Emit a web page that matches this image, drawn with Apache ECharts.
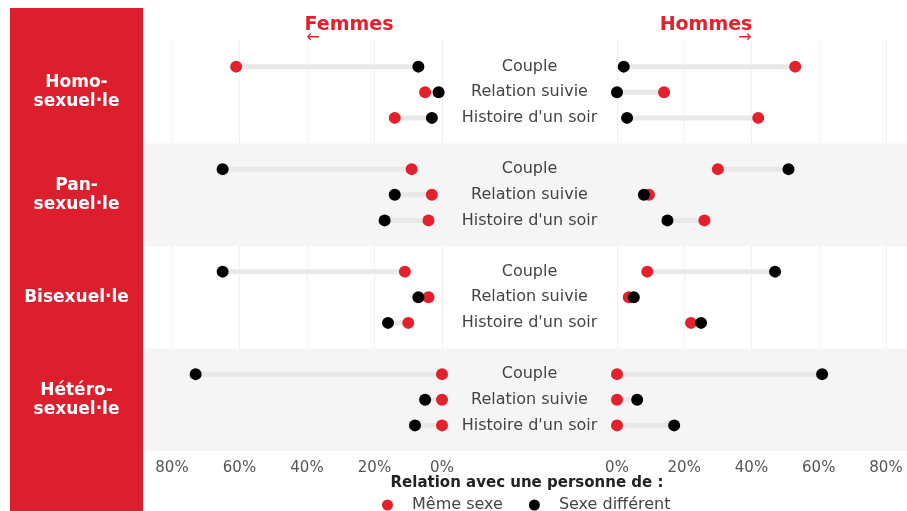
<!DOCTYPE html>
<html><head><meta charset="utf-8">
<script src="https://cdn.jsdelivr.net/npm/echarts@6/dist/echarts.min.js"></script>
<style>html,body{margin:0;padding:0;background:#fff}#c{width:907px;height:511px}</style>
</head><body><div id="c"></div>
<script>
const categories = ['Couple', 'Relation suivie', "Histoire d'un soir"];
const groups = ['Homo-\nsexuel·le', 'Pan-\nsexuel·le', 'Bisexuel·le', 'Hétéro-\nsexuel·le'];
const tickValues = [0, 20, 40, 60, 80];
// Femmes (left), values in %
const femmesMeme = [61, 5, 14, 9, 3, 4, 11, 4, 10, 0, 0, 0];
const femmesDiff = [7, 1, 3, 65, 14, 17, 65, 7, 16, 73, 5, 8];
// Hommes (right), values in %
const hommesMeme = [53, 14, 42, 30, 9.5, 26, 9, 3.5, 22, 0, 0, 0];
const hommesDiff = [2, 0, 3, 51, 8, 15, 47, 5, 25, 61, 6, 17];

const RED = '#e2212d';
const FONT = 'DejaVu Sans';
function slot(i) { return Math.floor(i / 3) * 4 + (i % 3); }

const yAxisBase = { type: 'value', min: -1, max: 15, inverse: true, show: false };
const gridV = { top: 41, bottom: 60 };

function dumbbell(a, b, xi) {
  return {
    type: 'custom', xAxisIndex: xi, yAxisIndex: xi, z: 1,
    data: a.map((v, i) => [slot(i), Math.min(v, b[i]), Math.max(v, b[i])]),
    encode: { x: [1, 2], y: 0 },
    renderItem: function (params, api) {
      const y = api.value(0);
      const p1 = api.coord([api.value(1), y]);
      const p2 = api.coord([api.value(2), y]);
      return { type: 'line', shape: { x1: p1[0], y1: p1[1], x2: p2[0], y2: p2[1] },
        style: { stroke: '#e8e8e8', lineWidth: 5 } };
    }
  };
}
function dots(name, vals, color, xi) {
  return { type: 'scatter', name: name, xAxisIndex: xi, yAxisIndex: xi, z: 3,
    symbolSize: 12, itemStyle: { color: color, opacity: 1 },
    data: vals.map((v, i) => [v, slot(i)]) };
}
const valueAxis = (gi, inverse) => ({
  type: 'value', gridIndex: gi, min: 0, max: 80, interval: 20, inverse: inverse,
  axisLine: { show: false }, axisTick: { show: false },
  axisLabel: { formatter: '{value}%', color: '#555', fontSize: 15, fontFamily: FONT, margin: 10 },
  splitLine: { show: true, lineStyle: { color: '#e3e3e3', type: 'dotted', width: 1 } }
});
const hiddenX = { type: 'value', min: 0, max: 1, show: false };

const centerData = [];
for (let i = 0; i < 12; i++) centerData.push({ value: [0.5, slot(i)], name: categories[i % 3] });
const groupData = groups.map((g, k) => ({ value: [0.5, k * 4 + 1], name: g }));

const chart = echarts.init(document.getElementById('c'));
chart.setOption({
  animation: false,
  textStyle: { fontFamily: FONT },
  grid: [
    Object.assign({ left: 172, width: 270 }, gridV),
    Object.assign({ left: 617, width: 269 }, gridV),
    Object.assign({ left: 442, width: 175 }, gridV),
    Object.assign({ left: 145, right: 0 }, gridV),
    Object.assign({ left: 10, width: 133 }, gridV)
  ],
  xAxis: [valueAxis(0, true), valueAxis(1, false),
    Object.assign({ gridIndex: 2 }, hiddenX), Object.assign({ gridIndex: 3 }, hiddenX), Object.assign({ gridIndex: 4 }, hiddenX)],
  yAxis: [0, 1, 2, 3, 4].map(g => Object.assign({ gridIndex: g }, yAxisBase)),
  legend: {
    data: ['Même sexe', 'Sexe différent'], left: 377, top: 492, icon: 'circle',
    itemWidth: 11, itemHeight: 11, itemGap: 26,
    textStyle: { color: '#444', fontSize: 16, fontFamily: FONT, padding: [0, 0, 0, 14] }
  },
  graphic: [
    { type: 'rect', left: 10, top: 8, shape: { width: 133, height: 503 }, style: { fill: '#dc1e2d' }, z: -10 },
    { type: 'text', x: 349, y: 25, style: { text: 'Femmes', fill: RED, font: 'bold 19px ' + FONT, textAlign: 'center', textVerticalAlign: 'middle' } },
    { type: 'text', x: 706, y: 25, style: { text: 'Hommes', fill: RED, font: 'bold 19px ' + FONT, textAlign: 'center', textVerticalAlign: 'middle' } },
    { type: 'text', x: 313, y: 38, style: { text: '←', fill: RED, font: '16px ' + FONT, textAlign: 'center', textVerticalAlign: 'middle' } },
    { type: 'text', x: 745, y: 38, style: { text: '→', fill: RED, font: '16px ' + FONT, textAlign: 'center', textVerticalAlign: 'middle' } },
    { type: 'text', x: 527, y: 483, style: { text: 'Relation avec une personne de :', fill: '#222', font: 'bold 15px ' + FONT, textAlign: 'center', textVerticalAlign: 'middle' } }
  ],
  series: [
    { type: 'scatter', xAxisIndex: 3, yAxisIndex: 3, symbolSize: 0, data: [[0, 0]], silent: true, z: 0,
      markArea: { silent: true, itemStyle: { color: '#f5f5f5' },
        data: [[{ yAxis: 3 }, { yAxis: 7 }], [{ yAxis: 11 }, { yAxis: 15 }]] } },
    dumbbell(femmesMeme, femmesDiff, 0),
    dumbbell(hommesMeme, hommesDiff, 1),
    dots('Même sexe', femmesMeme, RED, 0),
    dots('Sexe différent', femmesDiff, '#000', 0),
    dots('Même sexe', hommesMeme, RED, 1),
    dots('Sexe différent', hommesDiff, '#000', 1),
    { type: 'scatter', xAxisIndex: 2, yAxisIndex: 2, symbolSize: 2, silent: true, z: 4, data: centerData,
      itemStyle: { color: 'rgba(0,0,0,0)', opacity: 1 },
      label: { show: true, position: 'inside', formatter: p => p.name, color: '#444', fontSize: 16, fontFamily: FONT } },
    { type: 'scatter', xAxisIndex: 4, yAxisIndex: 4, symbolSize: 2, silent: true, z: 4, data: groupData,
      itemStyle: { color: 'rgba(0,0,0,0)', opacity: 1 },
      label: { show: true, position: 'inside', formatter: p => p.name, color: '#fff', fontSize: 17, fontWeight: 'bold', lineHeight: 19, fontFamily: FONT } }
  ]
});
</script></body></html>
